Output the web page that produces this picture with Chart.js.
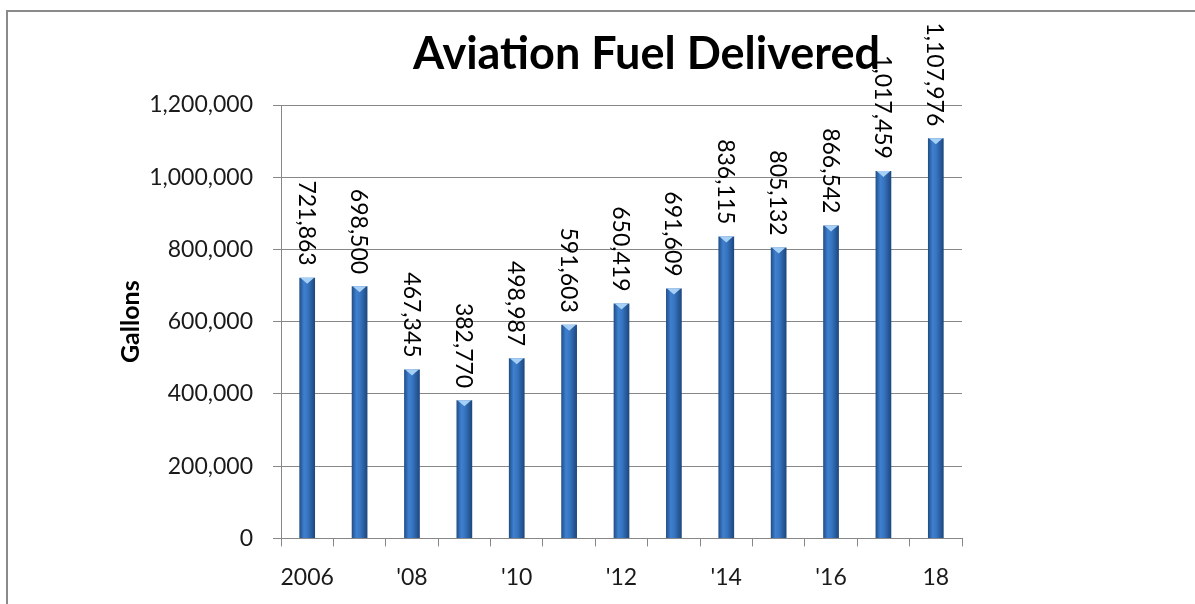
<!DOCTYPE html>
<html>
<head>
<meta charset="utf-8">
<script src="https://cdn.jsdelivr.net/npm/chart.js@4/dist/chart.umd.min.js"></script>
<style>
    html, body { margin: 0; padding: 0; background: #fff; }
    #frame {
        position: absolute; left: 6px; top: 10px; right: 0; bottom: 0;
        border-left: 2px solid #8a8a8a; border-top: 2px solid #8a8a8a;
    }
    #wrap { position: absolute; left: 0; top: 0; width: 1195px; height: 604px; }
</style>
</head>
<body>
<div id="frame"></div>
<div id="wrap"><canvas id="fuelChart" width="1195" height="604"></canvas></div>
<script>
const categories = ['2006', '', "'08", '', "'10", '', "'12", '', "'14", '', "'16", '', '18'];
const gallons = [721863, 698500, 467345, 382770, 498987, 591603, 650419, 691609, 836115, 805132, 866542, 1017459, 1107976];
const yTicks = [0, 200000, 400000, 600000, 800000, 1000000, 1200000];

const BAR_PCT = 0.3;
const fontFamily = "Lato, 'Open Sans', sans-serif";

function barFill(ctx) {
    const chart = ctx.chart;
    const xs = chart.scales.x;
    if (!xs || !chart.chartArea) return '#2f6db5';
    const cx = xs.getPixelForValue(ctx.dataIndex);
    const half = (xs.width / categories.length) * BAR_PCT / 2;
    const g = chart.ctx.createLinearGradient(cx - half, 0, cx + half, 0);
    g.addColorStop(0, '#1f4d86');
    g.addColorStop(0.3, '#3f80cf');
    g.addColorStop(0.55, '#3674c0');
    g.addColorStop(1, '#1c467c');
    return g;
}

// light cap on top of each bar + rotated value labels
const barDecor = {
    id: 'barDecor',
    afterDatasetsDraw(chart) {
        const c = chart.ctx;
        const meta = chart.getDatasetMeta(0);
        meta.data.forEach((el, i) => {
            const w = el.width;
            c.save();
            c.fillStyle = '#a7d0f7';
            c.beginPath();
            c.moveTo(el.x - w / 2 + 1, el.y);
            c.lineTo(el.x + w / 2 - 1, el.y);
            c.lineTo(el.x, el.y + 6);
            c.closePath();
            c.fill();
            c.restore();

            c.save();
            c.translate(el.x - 1, el.y - 12);
            c.rotate(Math.PI / 2);
            c.font = `23px ${fontFamily}`;
            c.fillStyle = '#000';
            c.textAlign = 'right';
            c.textBaseline = 'middle';
            c.fillText(gallons[i].toLocaleString('en-US'), 0, 0);
            c.restore();
        });
    }
};

new Chart(document.getElementById('fuelChart'), {
    type: 'bar',
    data: {
        labels: categories,
        datasets: [{
            label: 'Gallons',
            data: gallons,
            backgroundColor: barFill,
            borderWidth: 0,
            barPercentage: BAR_PCT,
            categoryPercentage: 1
        }]
    },
    options: {
        responsive: false,
        animation: false,
        events: [],
        layout: {
            padding: { left: 112, right: 14, top: 20, bottom: -4 }
        },
        scales: {
            x: {
                grid: {
                    offset: true,
                    drawOnChartArea: false,
                    tickLength: 8,
                    color: '#878787'
                },
                border: { color: '#878787' },
                ticks: {
                    autoSkip: false,
                    maxRotation: 0,
                    padding: 17,
                    color: '#1a1a1a',
                    font: { family: fontFamily, size: 23 }
                }
            },
            y: {
                min: 0,
                max: 1200000,
                afterBuildTicks(scale) {
                    scale.ticks = yTicks.map(v => ({ value: v }));
                },
                afterFit(scale) { scale.width = 169; },
                grid: { color: '#878787', tickLength: 8 },
                border: { color: '#878787' },
                ticks: {
                    padding: 20,
                    color: '#1a1a1a',
                    font: { family: fontFamily, size: 23 },
                    callback: v => v.toLocaleString('en-US')
                },
                title: {
                    display: true,
                    text: 'Gallons',
                    color: '#000',
                    font: { family: fontFamily, size: 25, weight: 'bold' }
                }
            },
            spacer: {
                position: 'right',
                display: true,
                grid: { display: false },
                border: { display: false },
                ticks: { display: false },
                afterFit(scale) { scale.width = 219; }
            }
        },
        plugins: {
            legend: { display: false },
            tooltip: { enabled: false },
            title: {
                display: true,
                text: 'Aviation Fuel Delivered',
                color: '#000',
                font: { family: fontFamily, size: 45, weight: 'bold' },
                padding: { top: 7, bottom: 24 }
            }
        }
    },
    plugins: [barDecor]
});
</script>
</body>
</html>
